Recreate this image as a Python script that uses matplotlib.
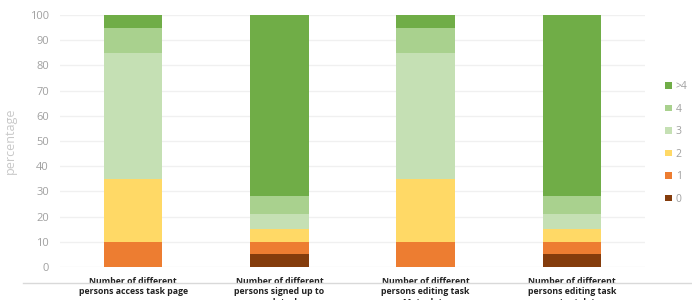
import matplotlib
matplotlib.use("Agg")
import matplotlib.pyplot as plt
import numpy as np

categories = ["Number of different\npersons access task page",
              "Number of different\npersons signed up to\neach task",
              "Number of different\npersons editing task\nMeta data",
              "Number of different\npersons editing task\ncontent data"]
series_names = ["0", "1", "2", "3", "4", ">4"]
values = {
    "0":  [0, 5, 0, 5],
    "1":  [10, 5, 10, 5],
    "2":  [25, 5, 25, 5],
    "3":  [50, 6, 50, 6],
    "4":  [10, 7, 10, 7],
    ">4": [5, 72, 5, 72],
}
colors = {"0": "#843C0C", "1": "#ED7D31", "2": "#FFD966", "3": "#C5E0B4",
          "4": "#A9D18E", ">4": "#70AD47"}
yticks = [0, 10, 20, 30, 40, 50, 60, 70, 80, 90, 100]

plt.rcParams['font.family'] = ['Open Sans', 'DejaVu Sans']
fig = plt.figure(figsize=(6.92, 3.0), dpi=100)
ax = fig.add_axes([60/692, 1-267/300, 585/692, 252/300])

x = np.arange(len(categories))
bottom = np.zeros(len(categories))
handles = []
for s in series_names:
    v = np.array(values[s], dtype=float)
    h = ax.bar(x, v, 0.4, bottom=bottom, color=colors[s], label=s, zorder=3)
    handles.append(h)
    bottom += v

ax.set_xlim(-0.5, 3.5)
ax.set_ylim(0, 100)
ax.set_yticks(yticks)
ax.yaxis.grid(True, color="#F0F0F0", linewidth=1, zorder=0)
for sp in ax.spines.values():
    sp.set_visible(False)
ax.tick_params(axis='y', length=0, colors="#A0A0A0", labelsize=8, pad=8)
ax.tick_params(axis='x', length=0, pad=7)
ax.set_xticks(x)
ax.set_xticklabels(categories, fontsize=6.3, fontweight='bold', color="#222222",
                   linespacing=1.25, va='top')
ax.set_ylabel("percentage", color="#C8C8C8", fontsize=9, labelpad=9)

leg = fig.legend(handles[::-1], series_names[::-1], loc='center left',
                 bbox_to_anchor=(656/692, 1-143/300), frameon=False,
                 fontsize=7.5, handlelength=0.6, handleheight=0.6,
                 labelspacing=1.1, handletextpad=0.4)
for t in leg.get_texts():
    t.set_color("#A0A0A0")

fig.add_artist(plt.Line2D([23/692, 1], [1-283/300, 1-283/300],
                          color="#D9D9D9", linewidth=1, transform=fig.transFigure))

fig.savefig("out.png", dpi=100)
